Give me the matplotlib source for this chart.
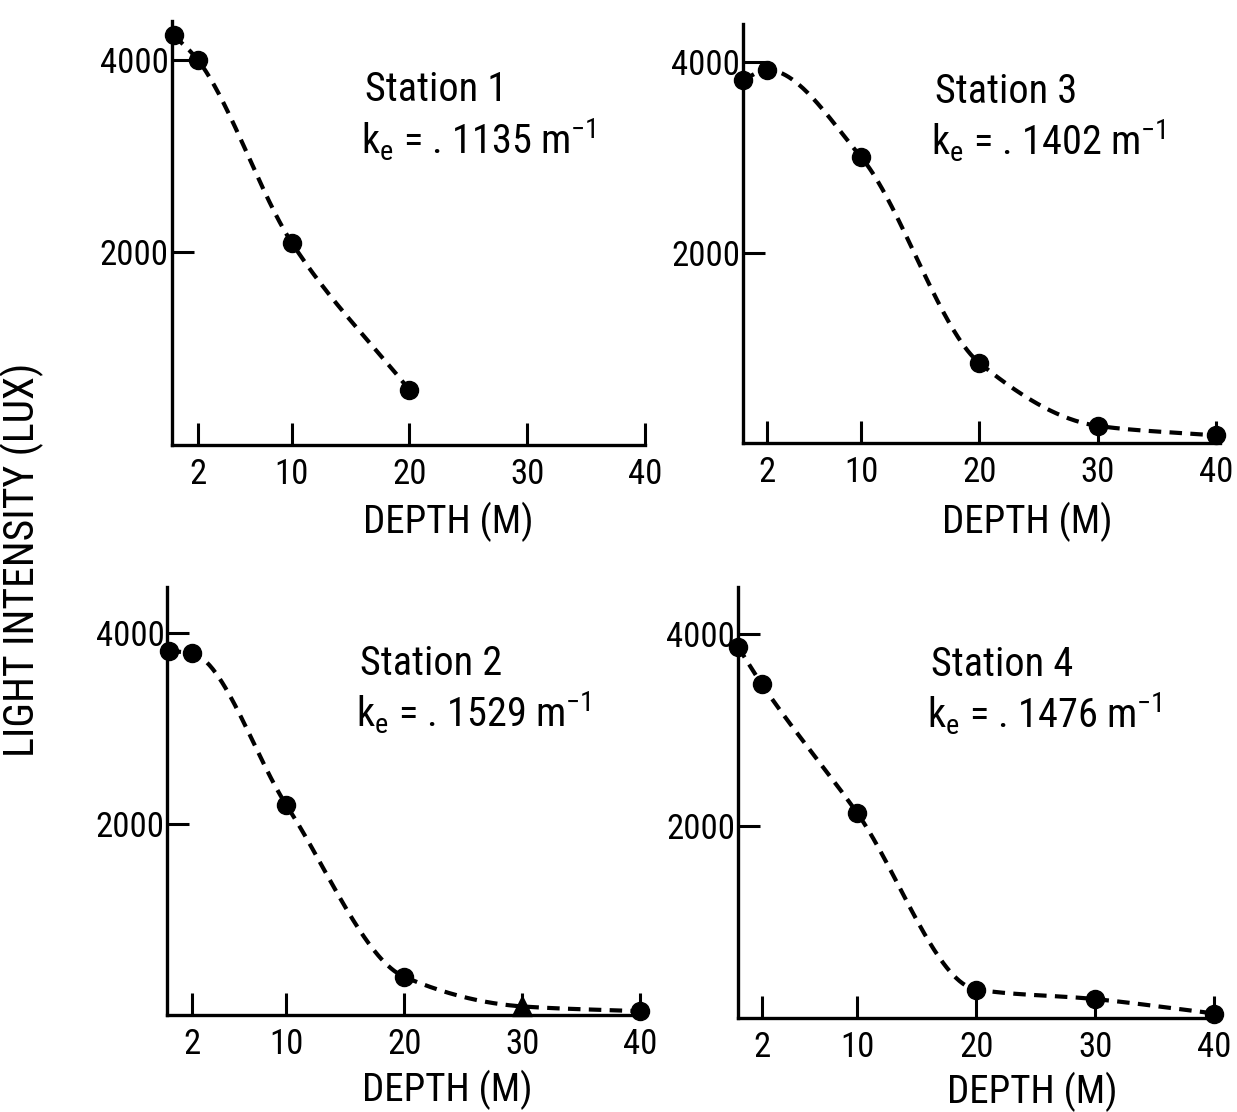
import numpy as np
import matplotlib
matplotlib.use("Agg")
import matplotlib.pyplot as plt
from matplotlib import font_manager as fm

# ---------------- data ----------------
depth_1 = [0, 2, 10, 20]
lux_1 = [4250, 4000, 2100, 570]

depth_3 = [0, 2, 10, 20, 30, 40]
lux_3 = [3810, 3920, 3000, 840, 180, 80]

depth_2 = [0, 2, 10, 20, 30, 40]
lux_2 = [3820, 3790, 2200, 400, 90, 40]

depth_4 = [0, 2, 10, 20, 30, 40]
lux_4 = [3870, 3480, 2140, 300, 200, 50]

station_names = ["Station 1", "Station 3", "Station 2", "Station 4"]
ke_values = [". 1135", ". 1402", ". 1529", ". 1476"]
x_ticks = [2, 10, 20, 30, 40]
y_ticks = [2000, 4000]
x_label = "DEPTH (M)"
y_label = "LIGHT INTENSITY (LUX)"

# ---------------- font selection ----------------
entries = fm.fontManager.ttflist
names = {f.name for f in entries}
family = "DejaVu Sans"
stretch = "normal"
narrow = False
for cand in ["Liberation Sans Narrow", "DejaVu Sans Condensed", "Roboto Condensed",
             "Open Sans Condensed", "Noto Sans Condensed"]:
    if cand in names:
        family = cand
        narrow = True
        break
if not narrow:
    for f in entries:
        if str(f.stretch) in ("condensed", "semi-condensed", "extra-condensed",
                              "ultra-condensed") and \
                f.name in ("DejaVu Sans", "Roboto", "Open Sans", "Noto Sans", "Liberation Sans", "Lato", "Inter"):
            family = f.name
            stretch = "condensed"
            narrow = True
            break

plt.rcParams["font.family"] = [family, "DejaVu Sans"]
plt.rcParams["font.stretch"] = stretch
plt.rcParams["mathtext.fontset"] = "custom"
plt.rcParams["mathtext.rm"] = family
plt.rcParams["lines.scale_dashes"] = False

tick_fs = 25 if narrow else 19
ann_fs = 29 if narrow else 22
lab_fs = 28 if narrow else 21
ylab_fs = 30 if narrow else 23

W, H = 1237, 1112
fig = plt.figure(figsize=(W / 100, H / 100), dpi=100)


def pchip(x, y, xs):
    x = np.asarray(x, float)
    y = np.asarray(y, float)
    h = np.diff(x)
    delta = np.diff(y) / h
    n = len(x)
    d = np.zeros(n)
    for k in range(1, n - 1):
        if delta[k - 1] * delta[k] > 0:
            w1 = 2 * h[k] + h[k - 1]
            w2 = h[k] + 2 * h[k - 1]
            d[k] = (w1 + w2) / (w1 / delta[k - 1] + w2 / delta[k])
    d[0] = delta[0]
    d[-1] = delta[-1]
    out = np.empty_like(xs)
    for i, xv in enumerate(xs):
        k = min(np.searchsorted(x, xv, side="right") - 1, n - 2)
        k = max(k, 0)
        t = (xv - x[k]) / h[k]
        h00 = 2 * t**3 - 3 * t**2 + 1
        h10 = t**3 - 2 * t**2 + t
        h01 = -2 * t**3 + 3 * t**2
        h11 = t**3 - t**2
        out[i] = h00 * y[k] + h10 * h[k] * d[k] + h01 * y[k + 1] + h11 * h[k] * d[k + 1]
    return out


def panel(px_left, px_right, px_bottom, px_top, xlim, ylim, depth, lux, name, ke,
          special=None):
    ax = fig.add_axes([px_left / W, 1 - px_bottom / H,
                       (px_right - px_left) / W, (px_bottom - px_top) / H])
    ax.set_xlim(*xlim)
    ax.set_ylim(*ylim)
    for s in ("top", "right"):
        ax.spines[s].set_visible(False)
    for s in ("left", "bottom"):
        ax.spines[s].set_linewidth(2.4)
        ax.spines[s].set_color("black")
    ax.set_xticks(x_ticks)
    ax.set_xticklabels([str(t) for t in x_ticks])
    ax.set_yticks(y_ticks)
    ax.set_yticklabels([str(t) for t in y_ticks])
    ax.tick_params(axis="x", direction="in", length=16, width=2.2, pad=9,
                   labelsize=tick_fs)
    ax.tick_params(axis="y", direction="in", length=16, width=2.2, pad=2,
                   labelsize=tick_fs)
    xs = np.linspace(depth[0], depth[-1], 300)
    ys = pchip(depth, lux, xs)
    ax.plot(xs, ys, color="black", linewidth=3.0, dashes=(9, 6), clip_on=False,
            zorder=3)
    for i, (dx, ly) in enumerate(zip(depth, lux)):
        mk = "^" if (special is not None and i == special) else "o"
        ax.plot([dx], [ly], marker=mk, markersize=13 if mk == "o" else 15,
                color="black", linestyle="none", clip_on=False, zorder=4)
    ax.text(16.2, 3690, name, fontsize=ann_fs, ha="left", va="center")
    ax.text(15.9, 3170,
            r"k$_{\mathregular{e}}$ = " + ke + r" m$^{\mathregular{-1}}$",
            fontsize=ann_fs, ha="left", va="center")
    ax.patch.set_alpha(0)
    return ax


panel(171.6, 645, 445, 21, (-0.2, 40), (0, 4400), depth_1, lux_1,
      station_names[0], ke_values[0])
panel(743, 1219.5, 443, 24, (0, 40.3), (0, 4400), depth_3, lux_3,
      station_names[1], ke_values[1])
panel(167.4, 642.4, 1015, 586.7, (-0.1, 40.2), (0, 4490), depth_2, lux_2,
      station_names[2], ke_values[2], special=4)
panel(738, 1218, 1018.3, 586.7, (0, 40.3), (0, 4496), depth_4, lux_4,
      station_names[3], ke_values[3])

for (cx, cy) in [(448, 522), (1027, 522), (447, 1090), (1032, 1092)]:
    fig.text(cx / W, 1 - cy / H, x_label, fontsize=lab_fs, ha="center", va="center")

fig.text(22 / W, 1 - 560 / H, y_label, fontsize=ylab_fs, rotation=90,
         ha="center", va="center")

fig.savefig("out.png", dpi=100, facecolor="white")
